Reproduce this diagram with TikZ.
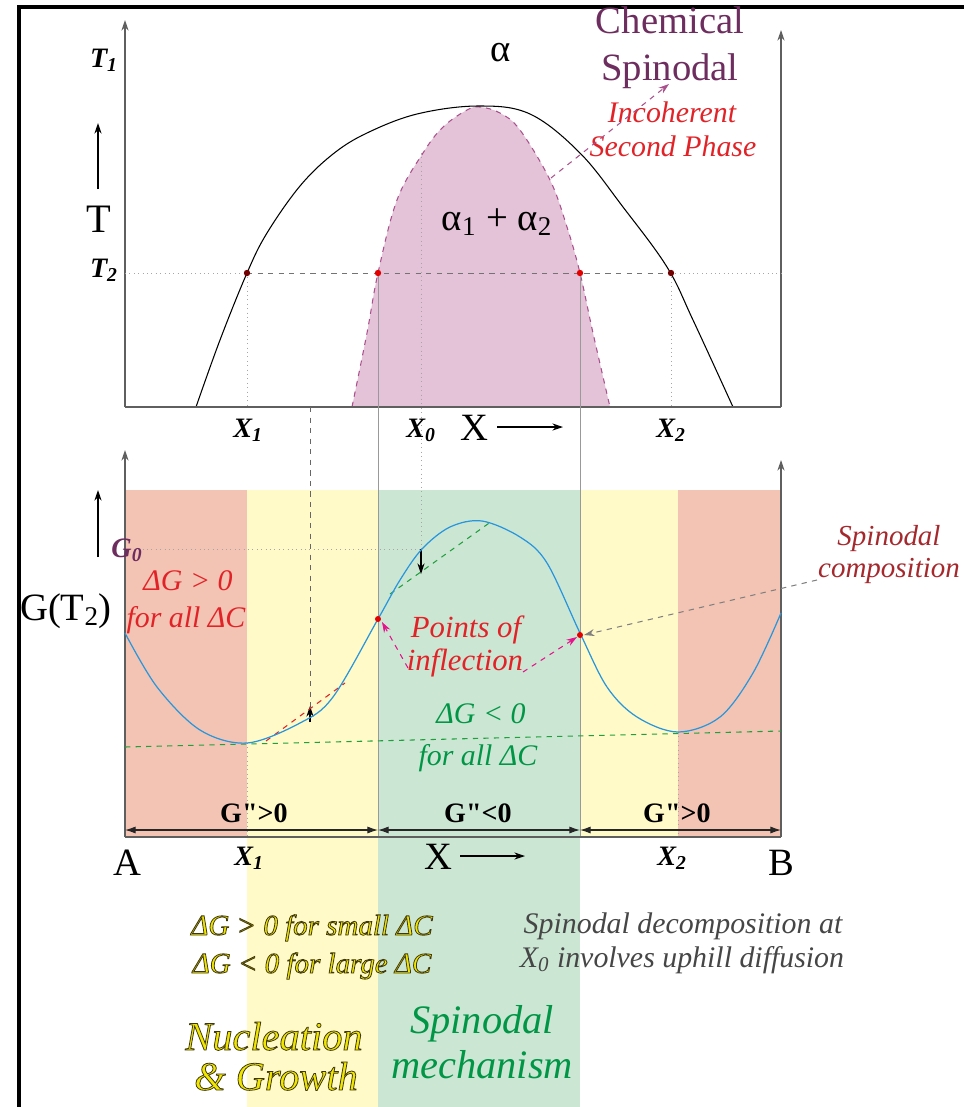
\documentclass[tikz,border=0pt]{standalone}
\usepackage{fontspec}
\setmainfont{Liberation Serif}[Ligatures=TeXOff]
\usetikzlibrary{arrows.meta}
\definecolor{axisgray}{RGB}{95,95,95}
\definecolor{redtxt}{RGB}{225,35,40}
\definecolor{grntxt}{RGB}{0,150,70}
\definecolor{purptxt}{RGB}{110,45,95}
\definecolor{bluecurve}{RGB}{40,150,220}
\definecolor{redband}{RGB}{243,196,180}
\definecolor{yelband}{RGB}{255,250,200}
\definecolor{grnband}{RGB}{204,230,212}
\definecolor{magarr}{RGB}{230,20,140}
\definecolor{spinline}{RGB}{170,80,140}
\definecolor{pinkfill}{RGB}{228,194,216}
\definecolor{yeltxt}{RGB}{240,230,0}
\definecolor{dkred}{RGB}{165,40,45}
\definecolor{graytxt}{RGB}{70,70,70}
\definecolor{tangreen}{RGB}{30,160,60}
\newcommand{\fsz}[2]{\fontsize{#1}{#2}\selectfont}
\newcommand{\outl}[1]{\special{pdf:code 2 Tr 0.45 w 0.25 0.22 0.05 RG}#1\special{pdf:code 0 Tr}}
\newcommand{\dq}{\symbol{34}}
\begin{document}
\begin{tikzpicture}[x=0.02cm,y=-0.02cm,
  arr/.style={-{Stealth[length=6pt,width=4pt]}},
  axisln/.style={draw=axisgray,line width=0.6pt},
  lbl/.style={anchor=base,inner sep=0pt},
  darr/.style={{Latex[length=6pt,width=4pt]}-{Latex[length=6pt,width=4pt]},draw=black!85,line width=0.6pt},
  dotln/.style={draw=black!35,dotted,line width=0.5pt},
  ]
\useasboundingbox (0,0) rectangle (964,1107);
% ---- colored bands ----
\fill[redband] (125,490) rectangle (247,837);
\fill[yelband] (247,490) rectangle (378,1107);
\fill[grnband] (378,490) rectangle (580,1107);
\fill[yelband] (580,490) rectangle (678,837);
\fill[redband] (678,490) rectangle (781,837);
% ---- frame ----
\draw[line width=1.8pt] (19,1107) -- (19,7) -- (964,7);
% ---- top plot ----
\filldraw[fill=pinkfill,draw=spinline,dashed,line width=0.6pt]
  plot[smooth,tension=0.6] coordinates {(352,407) (367,333) (378,273) (397,200) (423,153) (443,127) (467,110) (480,107) (500,113) (520,130) (550,180) (567,227) (580,273) (593,333) (610,407)} -- cycle;
\draw[black,line width=0.6pt] plot[smooth,tension=0.6] coordinates {(196,407) (220,340) (247,273) (267,233) (300,186) (333,154) (367,133) (417,114) (478,106) (530,114) (580,153) (623,207) (667,267) (693,320) (733,407)};
% axes
\coordinate (ta0) at (125,407); \coordinate (ta1) at (125,20);
\coordinate (tb0) at (781,407); \coordinate (tb1) at (781,30);
\draw[axisln] (ta0) -- (tb0);
\draw[axisln,arr] (ta0) -- (ta1);
\draw[axisln,arr] (tb0) -- (tb1);
% T2 line
\coordinate (t2a) at (125,273); \coordinate (t2b) at (247,273);
\coordinate (t2c) at (671,273); \coordinate (t2d) at (781,273);
\coordinate (t2s1) at (378,273); \coordinate (t2s2) at (580,273);
\draw[dotln] (t2a) -- (t2b);
\draw[draw=black!55,dashed,line width=0.5pt] (t2b) -- (t2c);
\draw[dotln] (t2c) -- (t2d);
\draw[dotln] (t2b) -- (247,407);
\draw[dotln] (t2c) -- (671,407);
% X0 dotted
\coordinate (x0t) at (421,153); \coordinate (g0p) at (421,549); \coordinate (g0q) at (421,574);
\draw[dotln] (x0t) -- (g0p);
\draw[arr,line width=0.6pt] (g0p) -- (g0q);
% long vertical guide lines
\draw[draw=black!40,line width=0.5pt] (t2s1) -- (378,837);
\draw[draw=black!40,line width=0.5pt] (t2s2) -- (580,837);
% dashed at 310
\coordinate (v31a) at (310,407); \coordinate (v31b) at (310,722); \coordinate (v31c) at (310,706);
\draw[draw=black!60,dashed,line width=0.5pt] (v31a) -- (v31b);
\draw[arr,line width=0.6pt] (v31b) -- (v31c);
% dots
\fill[red!45!black] (t2b) circle (3.2);
\fill[red!90!black] (t2s1) circle (3.2);
\fill[red!90!black] (t2s2) circle (3.2);
\fill[red!45!black] (t2c) circle (3.2);
% labels top
\node[lbl,font=\fsz{22}{26},text=purptxt] (chem) at (670,33) {Chemical};
\node[lbl,font=\fsz{22}{26},text=purptxt] (spin) at (670,80) {Spinodal};
\node[lbl,font=\fsz{17}{20}\itshape,text=redtxt] (incoh) at (672,122) {Incoherent};
\node[lbl,font=\fsz{17}{20}\itshape,text=redtxt] (secph) at (673,156) {Second Phase};
\coordinate (ca0) at (551,178); \coordinate (ca1) at (669,84);
\draw[draw=spinline,dashed,line width=0.6pt,arr] (ca0) -- (ca1);
\node[lbl,font=\fsz{22}{26}] (alpha) at (501,61) {α};
\node[lbl,font=\fsz{22}{26}] (a12) at (497,230) {α\textsubscript{1} + α\textsubscript{2}};
\node[lbl,font=\fsz{16}{20}\bfseries\itshape] (T1) at (104,67) {T\textsubscript{1}};
\node[lbl,font=\fsz{16}{20}\bfseries\itshape] (T2) at (104,277) {T\textsubscript{2}};
\node[lbl,font=\fsz{23}{26}] (Tl) at (99,232) {T};
\coordinate (tu0) at (98,189); \coordinate (tu1) at (98,123);
\draw[arr,line width=0.6pt] (tu0) -- (tu1);
\node[lbl,font=\fsz{16}{20}\bfseries\itshape] (X1t) at (248,437) {X\textsubscript{1}};
\node[lbl,font=\fsz{16}{20}\bfseries\itshape] (X0t) at (421,437) {X\textsubscript{0}};
\node[lbl,font=\fsz{16}{20}\bfseries\itshape] (X2t) at (671,437) {X\textsubscript{2}};
\node[lbl,font=\fsz{22}{26}] (Xt) at (474,440) {X};
\coordinate (xa0) at (497,427); \coordinate (xa1) at (563,427);
\draw[arr,line width=0.6pt] (xa0) -- (xa1);
% ---- lower plot ----
\coordinate (ga0) at (125,837); \coordinate (ga1) at (125,450);
\coordinate (gb0) at (781,837); \coordinate (gb1) at (781,460);
\draw[axisln] (ga0) -- (gb0);
\draw[axisln,arr] (ga0) -- (ga1);
\draw[axisln,arr] (gb0) -- (gb1);
\coordinate (g0l) at (125,549);
\draw[dotln] (g0l) -- (g0p);
\draw[dotln] (247,743) -- (247,837);
\draw[dotln] (678,732) -- (678,837);
% tangents
\coordinate (ct0) at (125,747); \coordinate (ct1) at (781,731);
\draw[draw=tangreen,dashed,line width=0.6pt] (ct0) -- (ct1);
\coordinate (gc0) at (390,594); \coordinate (gc1) at (492,521);
\draw[draw=tangreen,dashed,line width=0.6pt] (gc0) -- (gc1);
\coordinate (rc0) at (266,741); \coordinate (rc1) at (345,683);
\draw[draw=redtxt,dashed,line width=0.6pt] (rc0) -- (rc1);
% G curve
\draw[bluecurve,line width=0.7pt] plot[smooth,tension=0.55] coordinates {(125,633) (157,687) (200,730) (247,743) (300,723) (333,697) (378,619) (400,580) (422,549) (450,527) (482,521) (520,537) (547,563) (580,633) (607,687) (637,717) (678,732) (720,717) (753,673) (781,613)};
\coordinate (ip1) at (378,619); \coordinate (ip2) at (580,635);
\fill[red!90!black] (ip1) circle (3);
\fill[red!90!black] (ip2) circle (3);
% double arrows
\coordinate (d0) at (125,830); \coordinate (d1) at (378,830);
\coordinate (d2) at (580,830); \coordinate (d3) at (781,830);
\draw[darr] (d0) -- (d1);
\draw[darr] (d1) -- (d2);
\draw[darr] (d2) -- (d3);
\node[lbl,font=\fsz{16}{20}\bfseries] (gpp1) at (254,822) {G\dq>0};
\node[lbl,font=\fsz{16}{20}\bfseries] (gpp2) at (478,822) {G\dq<0};
\node[lbl,font=\fsz{16}{20}\bfseries] (gpp3) at (677,822) {G\dq>0};
% labels lower
\node[lbl,font=\fsz{22}{26}] (Gt2) at (66,620) {G(T\textsubscript{2})};
\node[lbl,font=\fsz{16}{20}\bfseries\itshape,text=purptxt] (G0) at (127,557) {G\textsubscript{0}};
\coordinate (gu0) at (98,557); \coordinate (gu1) at (98,490);
\draw[arr,line width=0.6pt] (gu0) -- (gu1);
\node[lbl,font=\fsz{17}{20}\itshape,text=redtxt] (dg1) at (188,590) {ΔG > 0};
\node[lbl,font=\fsz{17}{20}\itshape,text=redtxt] (dg1b) at (186,627) {for all ΔC};
\node[lbl,font=\fsz{17.5}{20}\itshape,text=redtxt] (poi) at (466,637) {Points of};
\node[lbl,font=\fsz{17.5}{20}\itshape,text=redtxt] (infl) at (465,670) {inflection};
\coordinate (pa0) at (408,668); \coordinate (pa1) at (382,622);
\coordinate (pb0) at (523,672); \coordinate (pb1) at (577,637);
\draw[draw=magarr,dashed,line width=0.6pt,arr] (pa0) -- (pa1);
\draw[draw=magarr,dashed,line width=0.6pt,arr] (pb0) -- (pb1);
\node[lbl,font=\fsz{17}{20}\itshape,text=grntxt] (dg2) at (481,723) {ΔG < 0};
\node[lbl,font=\fsz{17}{20}\itshape,text=grntxt] (dg2b) at (478,765) {for all ΔC};
\node[lbl,font=\fsz{16.5}{20}\itshape,text=dkred] (sc1) at (889,545) {Spinodal};
\node[lbl,font=\fsz{16.5}{20}\itshape,text=dkred] (sc2) at (889,577) {composition};
\coordinate (sa0) at (817,580); \coordinate (sa1) at (584,635);
\draw[draw=black!50,dashed,line width=0.6pt,arr] (sa0) -- (sa1);
\node[lbl,font=\fsz{22}{26}] (A) at (127,875) {A};
\node[lbl,font=\fsz{22}{26}] (B) at (781,875) {B};
\node[lbl,font=\fsz{16}{20}\bfseries\itshape] (X1b) at (249,865) {X\textsubscript{1}};
\node[lbl,font=\fsz{16}{20}\bfseries\itshape] (X2b) at (672,865) {X\textsubscript{2}};
\node[lbl,font=\fsz{22}{26}] (Xb) at (438,869) {X};
\coordinate (xb0) at (460,856); \coordinate (xb1) at (525,856);
\draw[arr,line width=0.6pt] (xb0) -- (xb1);
% ---- bottom texts ----
\node[lbl,font=\fsz{16.5}{20}\itshape,text=yeltxt] (ng1) at (312,935) {\outl{ΔG > 0 for small ΔC}};
\node[lbl,font=\fsz{16.5}{20}\itshape,text=yeltxt] (ng2) at (312,973) {\outl{ΔG < 0 for large ΔC}};
\node[lbl,font=\fsz{23}{26}\itshape,text=yeltxt] (nuc) at (274,1050) {\outl{Nucleation}};
\node[lbl,font=\fsz{23}{26}\itshape,text=yeltxt] (grw) at (276,1090) {\outl{\& Growth}};
\node[lbl,font=\fsz{23}{26}\itshape,text=grntxt] (sm1) at (482,1033) {Spinodal};
\node[lbl,font=\fsz{23}{26}\itshape,text=grntxt] (sm2) at (482,1078) {mechanism};
\node[lbl,font=\fsz{17}{20}\itshape,text=graytxt] (sd1) at (683,933) {Spinodal decomposition at};
\node[lbl,font=\fsz{17}{20}\itshape,text=graytxt] (sd2) at (682,967) {X\textsubscript{0} involves uphill diffusion};
\end{tikzpicture}
\end{document}
